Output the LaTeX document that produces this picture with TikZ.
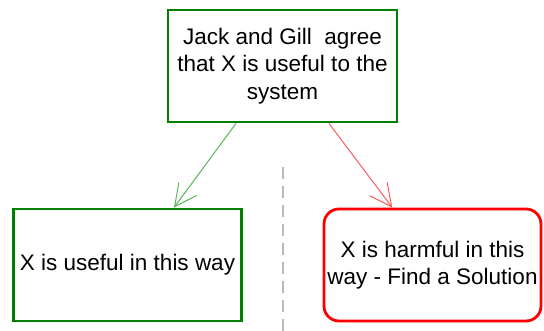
\documentclass[tikz,border=0pt]{standalone}
\usepackage{fontspec}
\setmainfont{Liberation Sans}
\usetikzlibrary{arrows.meta}
\definecolor{boxgreen}{RGB}{0,128,0}
\definecolor{arrgreen}{RGB}{90,180,90}
\definecolor{arrred}{RGB}{255,90,90}
\begin{document}
\begin{tikzpicture}[x=1pt,y=1pt,
  txt/.style={font=\fontsize{22.5}{27.5}\selectfont,align=center,text=black,inner sep=0pt},
  goodbox/.style={txt,draw=boxgreen,line width=2.8pt,minimum width=#1,minimum height=112pt},
  badbox/.style={txt,draw=red,line width=2.8pt,rounded corners=15pt,minimum width=217pt,minimum height=112pt},
  tip/.style={-{Straight Barb[length=22pt,width=22pt]},line width=1pt}]
\useasboundingbox (0,0) rectangle (544,331);

  \node[goodbox=229pt] (agree) at (282.5,265) {Jack and Gill~ agree\\that X is useful to the\\system};
  \node[goodbox=228pt] (useful) at (127.5,66) {X is useful in this way};
  \node[badbox] (harmful) at (432.5,66) {X is harmful in this\\way - Find a Solution};

\draw [tip,arrgreen] (agree.231) to (useful.51);
\draw [tip,arrred] (agree.309) to (harmful.125);

  \coordinate (divtop) at (283,164);
  \coordinate (divbot) at (283,0);
\draw [gray!55,line width=2pt,dash pattern=on 12pt off 7pt] (divtop) to (divbot);
\end{tikzpicture}
\end{document}
